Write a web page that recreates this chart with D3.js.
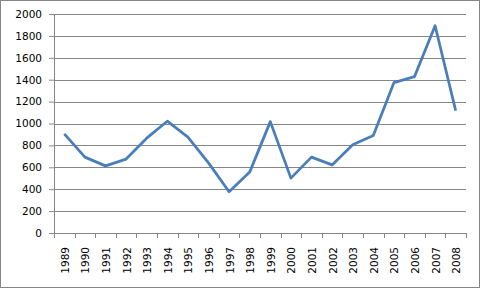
<!DOCTYPE html>
<html>
<head>
<meta charset="utf-8">
<script src="https://cdn.jsdelivr.net/npm/d3@7"></script>
<style>
  body { margin: 0; background: #fff; }
  svg text { font-family: "DejaVu Sans", Verdana, sans-serif; font-size: 10.5px; fill: #000; }
</style>
</head>
<body>
<svg width="481" height="289"></svg>
<script>
// values
var years = ["1989","1990","1991","1992","1993","1994","1995","1996","1997","1998",
             "1999","2000","2001","2002","2003","2004","2005","2006","2007","2008"];
var values = [905, 693, 613, 675, 866, 1021, 875, 640, 377, 556,
              1017, 501, 693, 622, 805, 890, 1373, 1428, 1893, 1118];
var yTicks = [0, 200, 400, 600, 800, 1000, 1200, 1400, 1600, 1800, 2000];

var margins = { top: 14, left: 54, right: 15, bottom: 56 };
var screen = { width: 481, height: 289 };
var width = screen.width - margins.left - margins.right;
var height = 233 - margins.top;

var svg = d3.select('svg');

// outer chart border
svg.append('rect')
   .attr('x', 0.5).attr('y', 0.5)
   .attr('width', 479).attr('height', 287)
   .attr('fill', 'none')
   .attr('stroke', '#868686');

var xScale = d3.scaleBand()
               .domain(years)
               .range([0, width]);
var yScale = d3.scaleLinear()
               .domain([0, 2000])
               .range([height, 0]);

var plotLand = svg.append('g')
                  .attr('transform', 'translate(' + margins.left + ',' + margins.top + ')');

// gridlines
plotLand.selectAll('line.grid')
        .data(yTicks.slice(1))
        .enter()
        .append('line')
        .attr('class', 'grid')
        .attr('x1', 0)
        .attr('x2', width)
        .attr('y1', function(d) { return Math.round(yScale(d)) + 0.5; })
        .attr('y2', function(d) { return Math.round(yScale(d)) + 0.5; })
        .attr('stroke', '#868686');

// y axis
var yAxis = d3.axisLeft(yScale)
              .tickValues(yTicks)
              .tickFormat(d3.format('d'))
              .tickSize(5)
              .tickPadding(7);
var yG = plotLand.append('g').call(yAxis);
yG.select('.domain').remove();
yG.append('line')
  .attr('x1', 0.5).attr('x2', 0.5)
  .attr('y1', 0).attr('y2', height)
  .attr('stroke', '#868686');
yG.selectAll('.tick line').attr('stroke', '#868686');
yG.selectAll('text').style('font-family', '"DejaVu Sans", Verdana, sans-serif').style('font-size', '10.5px');

// x axis with ticks on category boundaries
var xG = plotLand.append('g')
                 .attr('transform', 'translate(0,' + height + ')');
xG.append('line')
  .attr('x1', 0).attr('x2', width)
  .attr('y1', 0.5).attr('y2', 0.5)
  .attr('stroke', '#868686');
var bounds = years.map(function(d) { return xScale(d); }).concat([width]);
xG.selectAll('line.tk')
  .data(bounds)
  .enter()
  .append('line')
  .attr('class', 'tk')
  .attr('x1', function(d) { return Math.round(d) + 0.5; })
  .attr('x2', function(d) { return Math.round(d) + 0.5; })
  .attr('y1', 0).attr('y2', 5)
  .attr('stroke', '#868686');
xG.selectAll('text')
  .data(years)
  .enter()
  .append('text')
  .attr('transform', function(d) {
    return 'translate(' + (xScale(d) + xScale.bandwidth() / 2 + 4.5) + ',14) rotate(-90)';
  })
  .attr('text-anchor', 'end')
  .text(function(d) { return d; });

// the series line
var line = d3.line()
             .x(function(d, i) { return xScale(years[i]) + xScale.bandwidth() / 2; })
             .y(function(d) { return yScale(d); });
plotLand.append('path')
        .datum(values)
        .attr('d', line)
        .attr('fill', 'none')
        .attr('stroke', '#4a7ebb')
        .attr('stroke-width', 2.75)
        .attr('stroke-linejoin', 'round');
</script>
</body>
</html>
